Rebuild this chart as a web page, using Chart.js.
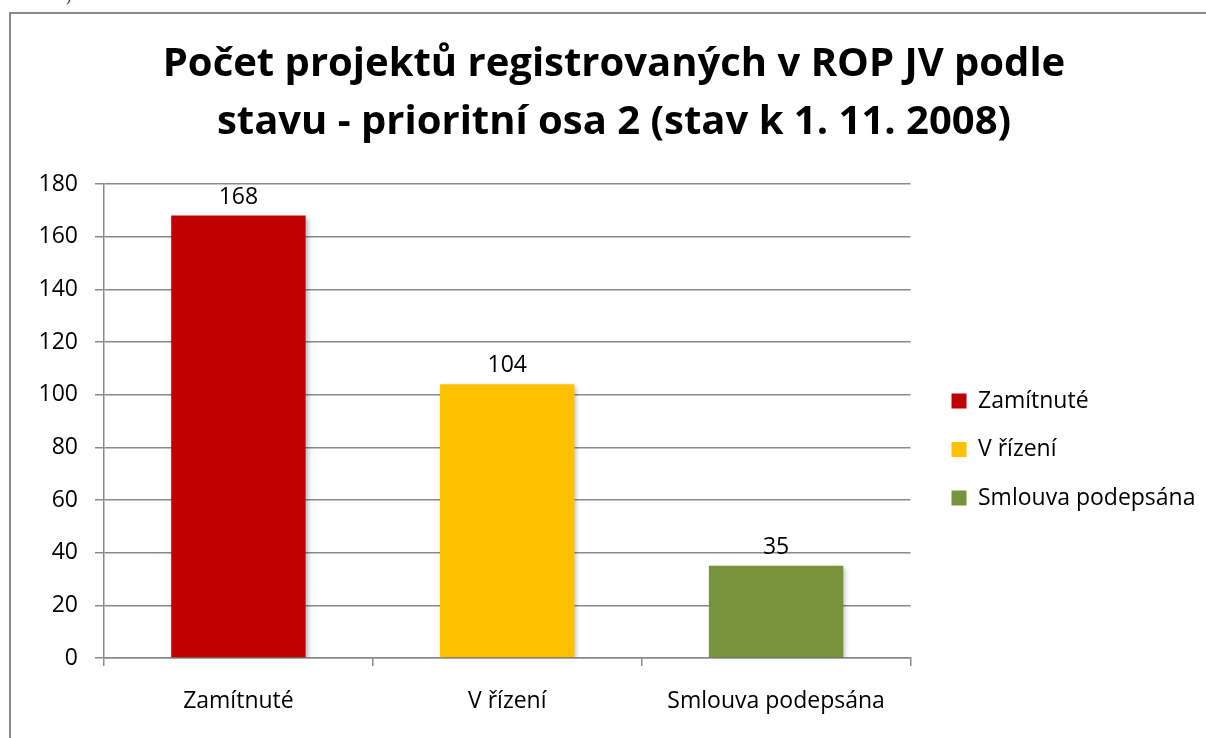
<!DOCTYPE html>
<html>
<head>
<meta charset="utf-8">
<script src="https://cdn.jsdelivr.net/npm/chart.js@4/dist/chart.umd.min.js"></script>
<style>
  html, body { margin: 0; padding: 0; background: #fff; overflow: hidden; width: 1206px; height: 738px; }
  #box { position: absolute; left: 9px; top: 12px; width: 1210px; height: 730px;
         border-left: 2px solid #8a8a8a; border-top: 2px solid #8a8a8a; }
  #chart { display: block; }
  #crumb { position: absolute; left: 66px; top: -13px; color: #2020a0; font: 16px 'Liberation Serif'; }
</style>
</head>
<body>
<div id="crumb">)</div>
<div id="box"><canvas id="chart" width="1206" height="724"></canvas></div>
<script>
'use strict'

const categories = ['Zamítnuté', 'V řízení', 'Smlouva podepsána']
const values = [168, 104, 35]
const barColors = ['#C00000', '#FFC000', '#77933C']
const yMin = 0
const yMax = 180
const yStep = 20
const titleLines = ['Počet projektů registrovaných v ROP JV podle', 'stavu - prioritní osa 2 (stav k 1. 11. 2008)']

const FONT = "'Open Sans', sans-serif"
const GRID = '#8a8a8a'

const CHART = document.querySelector('#chart').getContext('2d')

// excel-ish soft shadow under the bars
const barShadow = {
    id: 'barShadow',
    beforeDatasetsDraw(chart) {
        const c = chart.ctx
        c.save()
        c.shadowColor = 'rgba(0,0,0,0.3)'
        c.shadowBlur = 5
        c.shadowOffsetX = 2
        c.shadowOffsetY = 2
    },
    afterDatasetsDraw(chart) {
        chart.ctx.restore()
    }
}

// value above each bar
const valueLabels = {
    id: 'valueLabels',
    afterDatasetsDraw(chart) {
        const c = chart.ctx
        const meta = chart.getDatasetMeta(0)
        c.save()
        c.font = '23px ' + FONT
        c.fillStyle = '#000'
        c.textAlign = 'center'
        c.textBaseline = 'alphabetic'
        meta.data.forEach((bar, i) => {
            c.fillText(String(values[i]), bar.x, bar.y - 12)
        })
        c.restore()
    }
}

// push the legend a bit away from the plot (excel leaves a gap there)
const legendGap = {
    id: 'legendGap',
    afterLayout(chart) {
        if (!chart.legend) return
        chart.legend.left += 15.5
        chart.legend.right += 15.5
    }
}

let chart = new Chart(CHART, {
    type: 'bar',
    data: {
        labels: categories,
        datasets: [{
            label: 'Počet projektů',
            data: values,
            backgroundColor: barColors,
            borderWidth: 0,
            categoryPercentage: 1,
            barPercentage: 0.5
        }]
    },
    options: {
        responsive: false,
        animation: false,
        layout: { padding: { left: 27, right: 27, top: 0, bottom: 0 } },
        scales: {
            x: {
                grid: { display: true, drawOnChartArea: false, drawTicks: true, tickLength: 8, color: GRID, lineWidth: 1.5, offset: true },
                border: { display: true, color: GRID, width: 1.5 },
                ticks: { color: '#000', font: { family: FONT, size: 23 }, padding: 22 },
                afterFit(s) { s.height = 80 }
            },
            y: {
                min: yMin,
                max: yMax,
                grid: { color: GRID, lineWidth: 1.5, drawTicks: true, tickLength: 9 },
                border: { display: true, color: GRID, width: 1.5 },
                ticks: { stepSize: yStep, color: '#000', font: { family: FONT, size: 23 }, padding: 17 },
                afterFit(s) { s.width = 66 }
            }
        },
        plugins: {
            title: {
                display: true,
                text: titleLines,
                color: '#000',
                font: { family: FONT, size: 40, weight: 'bold', lineHeight: 1.45 },
                padding: { top: 22, bottom: 32 }
            },
            legend: {
                position: 'right',
                fullSize: false,
                title: { display: true, text: ' ', font: { size: 10 }, padding: { top: 45, bottom: 0 } },
                labels: {
                    color: '#000',
                    font: { family: FONT, size: 23 },
                    boxWidth: 15,
                    boxHeight: 15,
                    padding: 25.5,
                    generateLabels() {
                        return categories.map((name, i) => ({
                            text: name,
                            fillStyle: barColors[i],
                            strokeStyle: barColors[i],
                            fontColor: '#000',
                            lineWidth: 0,
                            hidden: false,
                            index: i
                        }))
                    }
                }
            },
            tooltip: { enabled: false }
        }
    },
    plugins: [barShadow, valueLabels, legendGap]
})
</script>
</body>
</html>
